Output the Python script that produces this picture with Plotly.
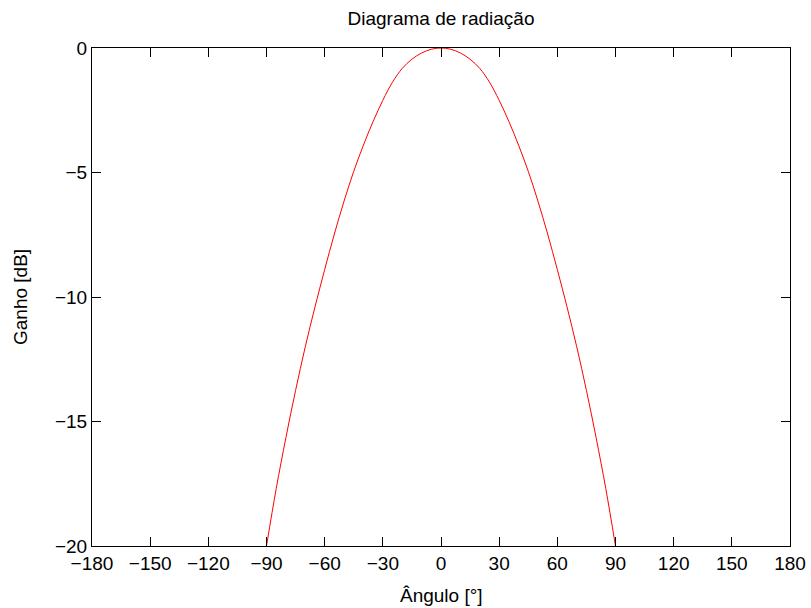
import plotly.graph_objects as go

# Angle (degrees) and gain (dB) (main lobe)
angle = [-90, -85, -80, -75, -70, -65, -60, -55, -50, -45, -40, -35, -30,
         -25, -20, -15, -10, -5, 0, 5, 10, 15, 20, 25, 30, 35, 40, 45, 50, 55,
         60, 65, 70, 75, 80, 85, 90]
gain = [-20, -17.7, -15.65, -13.75, -12.0, -10.4, -8.9, -7.47, -6.15, -4.95,
        -3.9, -2.95, -2.1, -1.37, -0.82, -0.45, -0.2, -0.05, 0.0, -0.05, -0.2,
        -0.45, -0.82, -1.37, -2.1, -2.95, -3.9, -4.95, -6.15, -7.47, -8.9,
        -10.4, -12.0, -13.75, -15.65, -17.7, -20]

x_ticks = [-180, -150, -120, -90, -60, -30, 0, 30, 60, 90, 120, 150, 180]
y_ticks = [-20, -15, -10, -5, 0]

FONT = "Liberation Sans"
FS = 19
W, H = 811, 608
ML, MR, MT, MB = 92, 21, 48, 62
PW, PH = W - ML - MR, H - MT - MB

fig = go.Figure()
fig.add_trace(go.Scatter(
    x=angle, y=gain, mode="lines",
    line=dict(color="#ff0000", width=1, shape="spline", smoothing=1.0),
    showlegend=False, hoverinfo="skip"))

axis_common = dict(
    showline=True, linecolor="black", linewidth=1, mirror="ticks",
    ticks="inside", ticklen=9, tickwidth=1, tickcolor="black",
    showgrid=False, zeroline=False, automargin=False,
    tickfont=dict(family=FONT, size=FS, color="black"),
)

def fmt(v):
    return ("\u2212" + str(-v)) if v < 0 else str(v)

fig.update_layout(
    width=W, height=H,
    margin=dict(l=ML, r=MR, t=MT, b=MB, autoexpand=False),
    paper_bgcolor="white", plot_bgcolor="white",
    title=dict(text="Diagrama de radiação", x=0.5, xref="paper",
               y=1 - 18 / H, yref="container", yanchor="middle", xanchor="center",
               font=dict(family=FONT, size=FS, color="black")),
    xaxis=dict(range=[-180, 180], tickvals=x_ticks,
               ticktext=[fmt(v) for v in x_ticks], **axis_common),
    yaxis=dict(range=[-20, 0], tickvals=y_ticks,
               ticktext=[fmt(v) for v in y_ticks], **axis_common),
    annotations=[
        dict(text="Ângulo [°]", xref="paper", yref="paper",
             x=0.5, y=-(595 - (H - MB)) / PH, xanchor="center", yanchor="middle",
             showarrow=False, font=dict(family=FONT, size=FS, color="black")),
        dict(text="Ganho [dB]", xref="paper", yref="paper",
             x=(20 - ML) / PW, y=0.5, xanchor="center", yanchor="middle",
             textangle=-90, showarrow=False,
             font=dict(family=FONT, size=FS, color="black")),
    ],
)

fig.write_html("out.html")
